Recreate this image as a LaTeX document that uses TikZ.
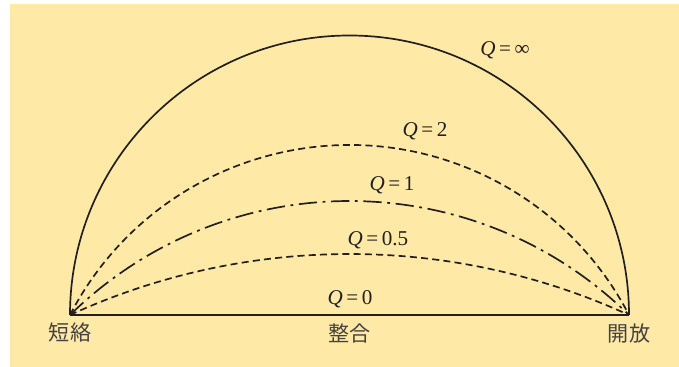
\documentclass[tikz,border=0pt]{standalone}
\usepackage{fontspec}
\setmainfont{Liberation Serif}
\newfontfamily\cjkfont{Noto Sans CJK JP}
\usetikzlibrary{positioning,calc}
\definecolor{paper}{HTML}{FEEAA6}
\definecolor{ink}{HTML}{231F20}

\begin{document}
\begin{tikzpicture}[
  x=0.025cm, y=0.025cm,
  curve/.style={ink, line width=1.2pt},
  shortdash/.style={curve, dash pattern=on 5pt off 3pt},
  dashdot/.style={curve, dash pattern=on 13pt off 4pt on 2pt off 4pt},
  qlabel/.style={ink, font=\fontsize{15}{17}\selectfont, inner sep=0pt},
  endlabel/.style={ink!85, font=\cjkfont\fontsize{15}{17}\selectfont, inner sep=0pt}
]

\useasboundingbox (0,0) rectangle (679,367);
\fill[paper] (10,0) rectangle (679,363);

\coordinate (short) at (70,52);
\coordinate (open) at (629,52);
\coordinate (mid) at (349.5,52);

\node[endlabel] (shortlbl) at (70,34) {短絡};
\node[endlabel] (midlbl) at (349.5,34) {整合};
\node[endlabel] (openlbl) at (629,34) {開放};

\node[qlabel] (qinf) at (505,317) {\textit{Q}\,=\,∞};
\node[qlabel] (qtwo) at (425,236) {\textit{Q}\,=\,2};
\node[qlabel] (qone) at (392,182) {\textit{Q}\,=\,1};
\node[qlabel] (qhalf) at (378,127) {\textit{Q}\,=\,0.5};
\node[qlabel] (qzero) at (350,68) {\textit{Q}\,=\,0};

\draw[curve] (short) -- (open);
\draw[curve] (short) arc[start angle=180, end angle=0, radius=279.5];
\draw[shortdash] (short) arc[start angle=152.61, end angle=27.39, radius=314.8];
\draw[dashdot] (short) arc[start angle=134.38, end angle=45.62, radius=399.6];
\draw[shortdash] (short) arc[start angle=114.62, end angle=65.38, radius=670.8];

\end{tikzpicture}
\end{document}
